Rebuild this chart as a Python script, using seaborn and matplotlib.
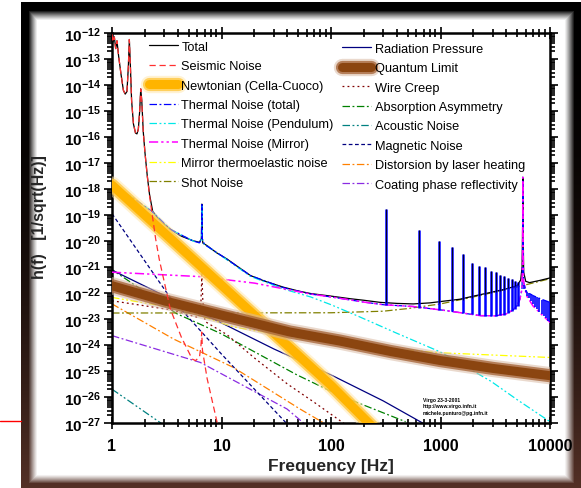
import numpy as np
import matplotlib
matplotlib.use("Agg")
import matplotlib.pyplot as plt
import matplotlib.patheffects as pe
from matplotlib.lines import Line2D
from matplotlib.ticker import LogLocator, NullFormatter
import seaborn as sns

sns.set_theme(style="white")
plt.rcParams["font.family"] = ["Liberation Sans", "DejaVu Sans"]
plt.rcParams["mathtext.fontset"] = "custom"
plt.rcParams["mathtext.rm"] = "Liberation Sans:bold"
plt.rcParams["mathtext.it"] = "Liberation Sans:bold"
plt.rcParams["mathtext.bf"] = "Liberation Sans:bold"
plt.rcParams["mathtext.default"] = "rm"

# ---- noise budget: frequency [Hz] and log10 h(f) [1/sqrt(Hz)] ----
total_f = [1.0, 1.02, 1.05, 1.08, 1.11, 1.15, 1.21, 1.27, 1.32, 1.37,
           1.41, 1.44, 1.47, 1.51, 1.57, 1.64, 1.69, 1.74, 1.79, 1.83,
           1.87, 1.93, 2.0, 2.1, 2.2, 2.35, 2.6, 3.0, 3.4, 4.2,
           5.5, 6.3, 6.56, 6.62, 6.68, 6.76, 7.0, 7.4, 9.0, 11.2,
           14.0, 18.4, 25.0, 37.0, 50.0, 65.0, 100, 150, 200, 281,
           400, 565, 800, 1140, 1500, 2000, 3000, 4000, 5000, 5400,
           5560, 5620, 5650, 5680, 5750, 6000, 6500, 8000, 10000]
total_lg = [-12.05, -12.35, -12.15, -12.6, -12.3, -12.9, -13.6, -14.2, -14.35, -14.25,
            -13.3, -12.25, -13.2, -14.6, -15.5, -15.85, -15.88, -15.7, -15.0, -14.15,
            -14.6, -15.8, -16.6, -17.5, -18.2, -18.85, -19.1, -19.35, -19.54, -19.8,
            -19.99, -20.05, -19.9, -18.58, -19.9, -20.08, -20.12, -20.18, -20.45, -20.69,
            -20.98, -21.33, -21.55, -21.78, -21.92, -22.02, -22.12, -22.22, -22.28, -22.36,
            -22.4, -22.42, -22.38, -22.3, -22.24, -22.12, -21.96, -21.84, -21.72, -21.5,
            -21.0, -19.5, -17.55, -19.5, -21.2, -21.55, -21.6, -21.52, -21.42]

seis_f = [1.0, 1.02, 1.05, 1.08, 1.11, 1.15, 1.21, 1.27, 1.32, 1.37,
          1.41, 1.44, 1.47, 1.51, 1.57, 1.64, 1.69, 1.74, 1.79, 1.83,
          1.87, 1.93, 2.0, 2.1, 2.2, 2.35, 2.5, 2.7, 2.96, 3.4,
          4.3, 5.4, 5.8, 6.3, 6.5, 6.6, 6.7, 7.4, 9.1, 9.4]
seis_lg = [-12.05, -12.35, -12.15, -12.6, -12.3, -12.9, -13.6, -14.2, -14.35, -14.25,
           -13.3, -12.25, -13.2, -14.6, -15.5, -15.85, -15.88, -15.7, -15.0, -14.15,
           -14.6, -15.8, -16.6, -17.5, -18.25, -19.1, -19.9, -20.7, -21.46, -22.6,
           -23.7, -24.54, -24.6, -24.45, -24.0, -23.5, -24.2, -25.3, -26.96, -27.2]

newt_f = [1, 10, 100, 240]
newt_lg = [-17.85, -21.7, -25.55, -27.15]

therm_f = [1.0, 1.5, 2.3, 3.4, 5.5, 6.3, 6.56, 6.62, 6.68, 7.0,
           7.4, 11.2, 18.4, 37, 65, 100, 200, 300, 565, 1140,
           2300, 3200, 4000, 4600, 5000, 5300, 5550, 5620, 5650, 5680,
           5750, 6100, 7000, 8500, 10000]
therm_lg = [-17.85, -18.3, -18.85, -19.55, -20.0, -20.07, -19.92, -18.6, -19.92, -20.14,
            -20.2, -20.7, -21.33, -21.8, -22.04, -22.15, -22.35, -22.45, -22.52, -22.68,
            -22.87, -22.88, -22.8, -22.65, -22.49, -22.25, -21.85, -20.5, -17.55, -20.5,
            -21.6, -21.95, -22.1, -22.25, -22.36]

pend_f = [1.0, 1.5, 2.3, 3.4, 5.5, 6.3, 6.56, 6.62, 6.68, 7.0,
          7.4, 11.2, 18.4, 37, 65, 100, 172, 400, 1000, 2900, 5000, 10000]
pend_lg = [-17.85, -18.3, -18.85, -19.55, -20.0, -20.07, -19.92, -18.6, -19.92, -20.15,
           -20.2, -20.72, -21.36, -21.85, -22.15, -22.45, -22.87, -23.55, -24.27, -25.4,
           -26.1, -26.95]

mirror_f = [1.0, 6.4, 20, 65, 100, 200, 300, 565, 1140, 2300,
            3200, 4000, 4600, 5000, 5300, 5550, 5620, 5650, 5680, 5750,
            6100, 7000, 8500, 10000]
mirror_lg = [-21.2, -21.37, -21.62, -22.04, -22.15, -22.35, -22.45, -22.52, -22.68, -22.87,
             -22.88, -22.8, -22.65, -22.49, -22.25, -21.85, -20.5, -17.55, -20.5, -21.6,
             -22.1, -22.5, -22.85, -23.13]

tel_f = [1, 4, 12.8, 50, 280, 1000, 10000]
tel_lg = [-22.17, -22.6, -23.3, -23.75, -24.1, -24.3, -24.48]

shot_f = [1, 100, 300, 500, 1000, 2000, 5000, 10000]
shot_lg = [-22.77, -22.76, -22.7, -22.6, -22.42, -22.15, -21.77, -21.45]

radp_f = [1, 3, 10, 30, 100, 300, 720]
radp_lg = [-21.12, -22.1, -23.15, -24.15, -25.15, -26.15, -27.05]

qlim_f = [1, 3, 10, 42, 121, 350, 1000, 3000, 10000]
qlim_lg = [-21.72, -22.3, -22.85, -23.5, -23.85, -24.25, -24.6, -24.9, -25.18]

creep_f = [1, 3.5, 6.2, 6.5, 6.62, 6.75, 7.1, 11.2, 20, 40, 70, 140]
creep_lg = [-22.3, -22.65, -22.95, -22.3, -21.2, -22.3, -23.1, -23.6, -24.5, -25.5, -26.2, -27.1]

absorb_f = [1, 3.92, 9.75, 48.9, 121, 480]
absorb_lg = [-21.1, -22.8, -23.55, -25.15, -25.95, -26.95]

acoust_f = [1, 2.9]
acoust_lg = [-25.7, -27.05]

magn_f = [1, 3.3, 10, 41]
magn_lg = [-18.95, -22.1, -24.35, -27.1]

heat_f = [1, 3.65, 12.8, 52, 90]
heat_lg = [-22.42, -23.77, -24.86, -26.46, -27.05]

coat_f = [1, 6.4, 39.6, 58]
coat_lg = [-23.64, -24.67, -26.46, -27.05]

# violin modes of the suspension wires
violin_f = [320, 640, 960, 1280, 1600, 1920, 2240, 2560, 2880, 3200,
            3520, 3840, 4160, 4480, 4800, 5120]
violin_top = [-18.77, -19.56, -19.99, -20.24, -20.5, -20.85, -20.95, -21.0, -21.14, -21.2,
              -21.3, -21.35, -21.43, -21.48, -21.52, -21.58]
violin_floor = [-22.45, -22.56, -22.64, -22.7, -22.76, -22.81, -22.85, -22.87, -22.88, -22.88,
                -22.86, -22.83, -22.78, -22.7, -22.6, -22.5]
violin_base = [-22.36, -22.4, -22.38, -22.32, -22.27, -22.2, -22.12, -22.06, -22.0, -21.96,
               -21.92, -21.87, -21.82, -21.78, -21.74, -21.7]

# dense mode structure above the mirror resonance
hf_f = [5800, 6000, 6200, 6450, 6700, 7000, 7300, 7650, 8000, 8400, 8800, 9200, 9650, 10000]
hf_top = [-21.85, -21.9, -21.95, -22.0, -22.05, -22.1, -22.13, -22.17, -22.2, -22.25,
          -22.28, -22.31, -22.34, -22.36]
hf_floor = [-21.7, -21.95, -22.1, -22.2, -22.3, -22.42, -22.52, -22.62, -22.72, -22.82,
            -22.9, -22.98, -23.06, -23.13]

x_ticks = [1, 10, 100, 1000, 10000]
x_tick_labels = ["1", "10", "100", "1000", "10000"]
y_exponents = list(range(-27, -11))

W, H = 581, 489
fig = plt.figure(figsize=(W / 100, H / 100), dpi=100, facecolor="white")

# dark bevelled picture frame around the plot
yy, xx = np.mgrid[0:H, 0:W].astype(float)
def ramp(d, solid, fade):
    return np.clip(1.0 - (d - solid) / fade, 0.0, 1.0)
inside = (xx >= 21) & (xx <= 580) & (yy >= 3) & (yy <= 488)
dark = np.maximum.reduce([ramp(yy - 3, 8, 10), ramp(xx - 21, 7, 9),
                          ramp(580 - xx, 6, 10), ramp(488 - yy, 4, 9)])
dark = dark ** 1.2 * inside
t = (yy / H) ** 2
edge = np.stack([0.33 * t, 0.19 * t, 0.15 * t], axis=-1)
img = 1.0 - dark[..., None] * (1.0 - edge)
bg = fig.add_axes([0, 0, 1, 1], zorder=-5)
bg.imshow(img, extent=(0, W, H, 0), aspect="auto", interpolation="bilinear")
bg.set_xlim(0, W)
bg.set_ylim(H, 0)
bg.axis("off")
fig.add_artist(Line2D([0, 21 / W], [1 - 422 / H] * 2, color="red", lw=1.0))

ax = fig.add_axes([112 / W, 65 / H, 438 / W, 390 / H], zorder=1)
ax.set_facecolor("white")
ax.set_xscale("log")
ax.set_yscale("log")

def curve(fx, lg, label, color, ls="-", lw=0.9, effects=None, z=2):
    sns.lineplot(x=np.asarray(fx, float), y=10.0 ** np.asarray(lg), ax=ax,
                 color=color, linestyle=ls, linewidth=lw, estimator=None,
                 sort=False, legend=False, zorder=z)
    line = ax.lines[-1]
    line.set_label(label)
    if effects:
        line.set_path_effects(effects)
    return line

dashdot = (0, (6, 2, 1.5, 2))
dashdotdot = (0, (6, 2, 1.5, 2, 1.5, 2))

glow_orange = [pe.Stroke(linewidth=12.5, foreground="#FFE6A8", alpha=0.5),
               pe.Stroke(linewidth=9.5, foreground="#FFC840", alpha=0.8),
               pe.Normal()]
glow_brown = [pe.Stroke(linewidth=12.5, foreground="#D9BBA5", alpha=0.55),
              pe.Stroke(linewidth=9.5, foreground="#A8683C", alpha=0.8),
              pe.Normal()]

h_newt = curve(newt_f, newt_lg, "Newtonian (Cella-Cuoco)", "#FFB400", lw=6.5, effects=glow_orange, z=3)
h_qlim = curve(qlim_f, qlim_lg, "Quantum Limit", "#8B4510", lw=6.5, effects=glow_brown, z=3)
h_coat = curve(coat_f, coat_lg, "Coating phase reflectivity", "#8A2BE2", dashdot)
h_heat = curve(heat_f, heat_lg, "Distorsion by laser heating", "#FF8000", dashdot)
h_ac = curve(acoust_f, acoust_lg, "Acoustic Noise", "#008080", dashdotdot)
h_ab = curve(absorb_f, absorb_lg, "Absorption Asymmetry", "#008000", dashdot)
h_wc = curve(creep_f, creep_lg, "Wire Creep", "#800000", (0, (1.5, 2.5)))
h_mag = curve(magn_f, magn_lg, "Magnetic Noise", "#000080", (0, (3, 2)))
h_rp = curve(radp_f, radp_lg, "Radiation Pressure", "#000080", "-")
h_te = curve(tel_f, tel_lg, "Mirror thermoelastic noise", "#FFFF00", dashdotdot)
h_shot = curve(shot_f, shot_lg, "Shot Noise", "#808000", dashdot)
h_tot = curve(total_f, total_lg, "Total", "black", "-", lw=0.9, z=2.5)
h_pend = curve(pend_f, pend_lg, "Thermal Noise (Pendulum)", "#00E8E8", dashdotdot, z=2.6)
h_th = curve(therm_f, therm_lg, "Thermal Noise (total)", "#0000FF", dashdot, z=2.6)
h_mir = curve(mirror_f, mirror_lg, "Thermal Noise (Mirror)", "#FF00FF", dashdotdot, lw=1.1, z=2.7)
h_seis = curve(seis_f, seis_lg, "Seismic Noise", "#FF3030", (0, (5, 3)), z=4)

ax.vlines(violin_f, 10.0 ** np.array(violin_floor), 10.0 ** np.array(violin_top),
          color="#0000FF", lw=1.8, zorder=3)
ax.vlines(violin_f, 10.0 ** np.array(violin_base), 10.0 ** np.array(violin_top),
          color="black", lw=0.6, zorder=3)
ax.vlines(hf_f, 10.0 ** np.array(hf_floor), 10.0 ** np.array(hf_top),
          color="#0000FF", lw=1.2, zorder=3)

ax.set_xlim(1, 10000)
ax.set_ylim(1e-27, 1e-12)
ax.set_xticks(x_ticks)
ax.set_xticklabels(x_tick_labels)
ax.set_yticks([10.0 ** e for e in y_exponents])
ax.set_yticklabels([r"$10^{%d}$" % e for e in y_exponents])
ax.xaxis.set_minor_locator(LogLocator(base=10, subs=np.arange(2, 10), numticks=50))
ax.yaxis.set_minor_locator(LogLocator(base=10, subs=np.arange(2, 10), numticks=50))
ax.xaxis.set_minor_formatter(NullFormatter())
ax.yaxis.set_minor_formatter(NullFormatter())
ax.tick_params(axis="x", which="both", top=True, bottom=True, direction="inout",
               colors="black", width=1.2)
ax.tick_params(axis="x", which="major", length=9, pad=6, labelsize=11.5)
ax.tick_params(axis="x", which="minor", length=6)
ax.tick_params(axis="y", which="both", left=True, right=True, direction="out",
               colors="black", width=1.2)
ax.tick_params(axis="y", which="major", length=6, pad=2, labelsize=11)
ax.tick_params(axis="y", which="minor", length=3.5)
for lab in ax.get_xticklabels():
    lab.set_fontweight("bold")
for s in ax.spines.values():
    s.set_color("black")
    s.set_linewidth(1.8)
ax.grid(False)

ax.set_xlabel("Frequency [Hz]", fontsize=12.5, fontweight="bold", labelpad=4)
ax.set_ylabel("h(f)   [1/sqrt(Hz)]", fontsize=11.5, fontweight="bold")
ax.yaxis.set_label_coords(-0.148, 0.53)

leg_kw = dict(frameon=False, fontsize=9.2, handlelength=2.3, handletextpad=0.25,
              labelspacing=0.58, borderpad=0, borderaxespad=0, loc="upper left")
leg1 = ax.legend(handles=[h_tot, h_seis, h_newt, h_th, h_pend, h_mir, h_te, h_shot],
                 bbox_to_anchor=(0.084, 0.98), **leg_kw)
ax.add_artist(leg1)
leg2 = ax.legend(handles=[h_rp, h_qlim, h_wc, h_ab, h_ac, h_mag, h_heat, h_coat],
                 bbox_to_anchor=(0.525, 0.975), **leg_kw)
for lg_ in (leg1, leg2):
    for txt in lg_.get_texts():
        txt.set_color("black")

ax.text(0.71, 0.066, "Virgo 23-3-2001\nhttp://www.virgo.infn.it\nmichele.punturo@pg.infn.it",
        transform=ax.transAxes, fontsize=3.6, fontweight="bold", va="top", ha="left",
        linespacing=1.3, color="black")

fig.savefig("out.png", dpi=100, facecolor="white")
